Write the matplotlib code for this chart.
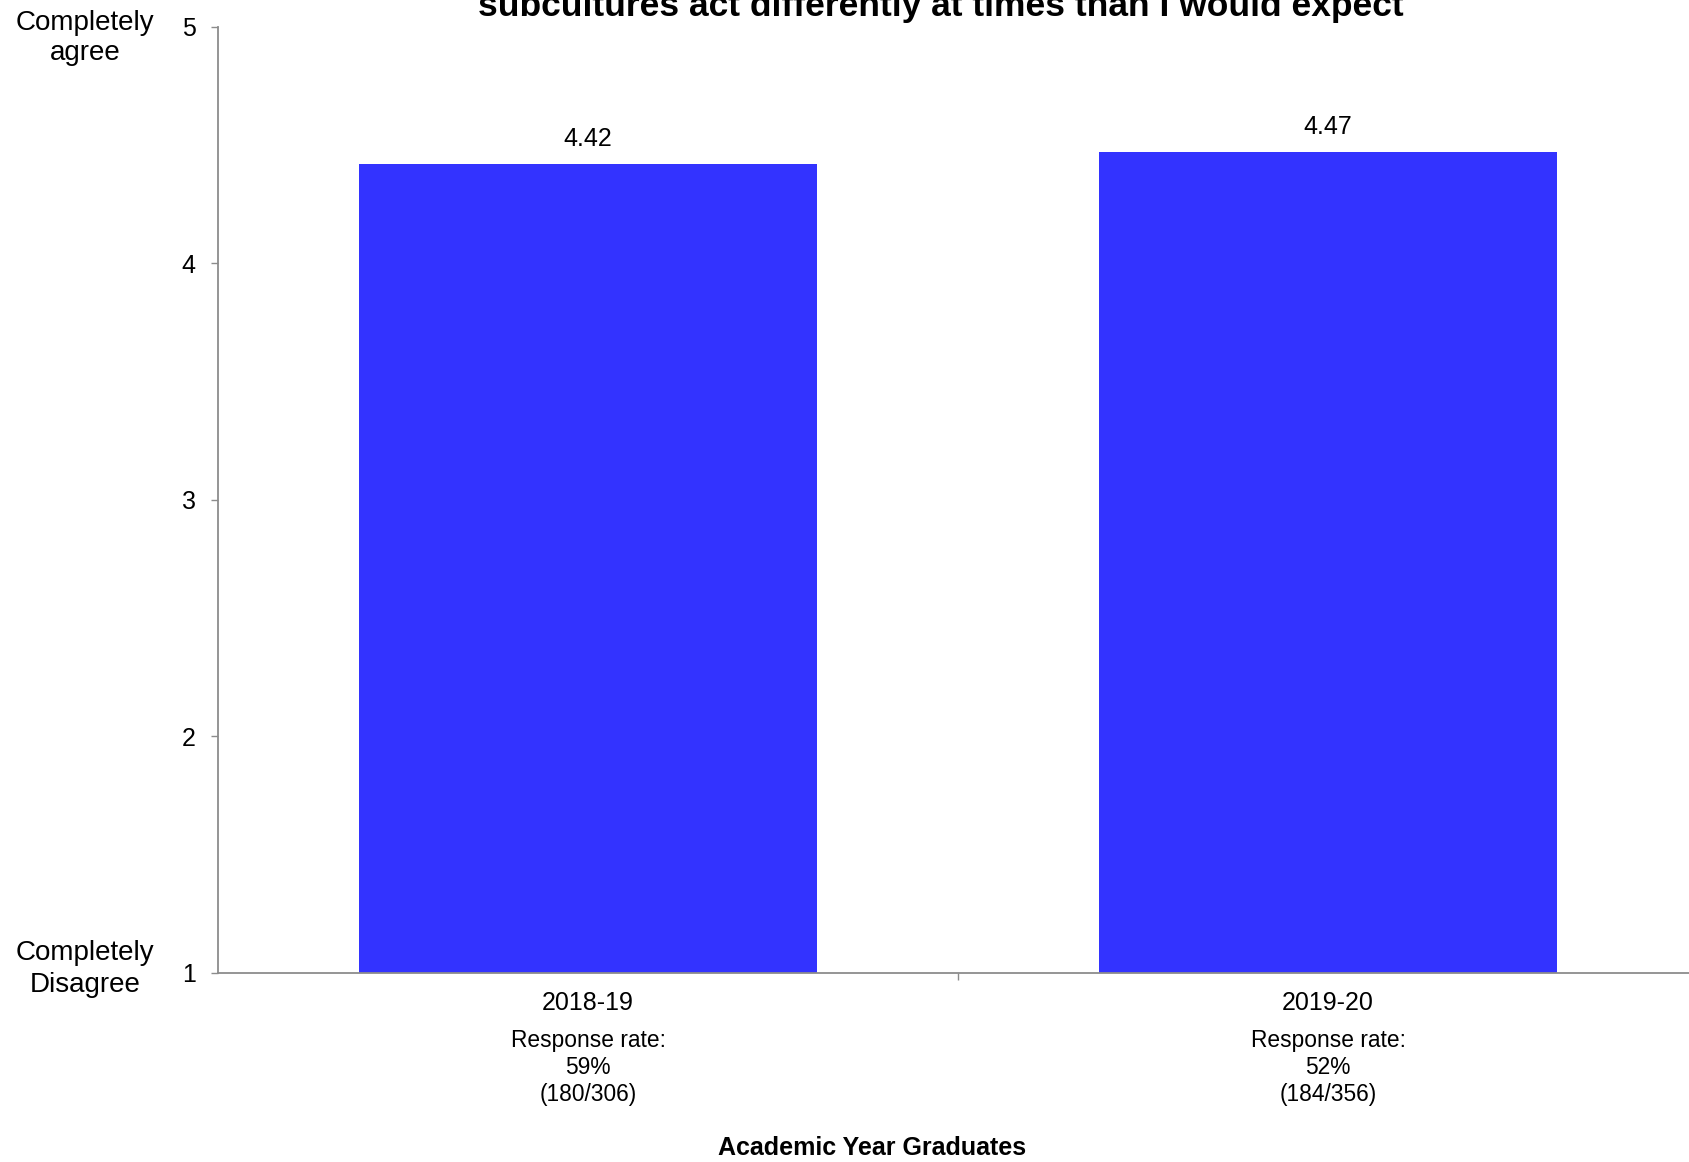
import matplotlib
matplotlib.use("Agg")
import matplotlib.pyplot as plt

# ── Data ───────────────────────────────────────────────────────────────────────
years      = ["2018-19", "2019-20"]
means      = [4.42, 4.47]
resp_pct   = ["59%", "52%"]
resp_count = ["(180/306)", "(184/356)"]
y_ticks    = [1, 2, 3, 4, 5]

TITLE   = "subcultures act differently at times than I would expect"
XLABEL  = "Academic Year Graduates"
BAR_CLR = "#3333FF"
AX_CLR  = "#8C8C8C"

plt.rcParams["font.family"] = ["Liberation Sans", "DejaVu Sans"]

fig = plt.figure(figsize=(16.9, 11.62), dpi=100)
ax = fig.add_axes([0.129, 0.1627, 0.8757, 0.8141])

x = [i + 0.5 for i in range(len(years))]
ax.bar(x, [m - 1 for m in means], bottom=1, width=0.62, color=BAR_CLR)

for xi, m in zip(x, means):
    ax.annotate(f"{m:.2f}", (xi, m), xytext=(0, 18), textcoords="offset points",
                ha="center", va="center", fontsize=18)

ax.set_xlim(0, len(years))
ax.set_ylim(1, 5)
ax.set_yticks(y_ticks)
ax.set_yticklabels([str(t) for t in y_ticks], fontsize=18)
ax.tick_params(axis="y", length=5, width=1, color=AX_CLR, pad=11)

# boundary tick between categories, labels at category centres
ax.set_xticks([1])
ax.set_xticklabels([""])
ax.tick_params(axis="x", which="major", length=5, width=1, color=AX_CLR, direction="out")
ax.set_xticks(x, minor=True)
ax.set_xticklabels(years, minor=True, fontsize=18)
ax.tick_params(axis="x", which="minor", length=0, pad=13)

for s in ["top", "right"]:
    ax.spines[s].set_visible(False)
for s in ["left", "bottom"]:
    ax.spines[s].set_color(AX_CLR)
    ax.spines[s].set_linewidth(1.3)

# response rates under each year
for xi, p, c in zip(x, resp_pct, resp_count):
    ax.text(xi, -0.1, f"Response rate:\n{p}\n{c}", transform=ax.get_xaxis_transform(),
            ha="center", va="center", fontsize=16.4, linespacing=1.22)

fig.text(85 / 1690, 1 - 38 / 1162, "Completely\nagree", ha="center", va="center",
         fontsize=20, linespacing=1.25)
fig.text(85 / 1690, 1 - 969 / 1162, "Completely\nDisagree", ha="center", va="center",
         fontsize=20, linespacing=1.25)

fig.text(941 / 1690, 0.986, TITLE, ha="center", va="baseline",
         fontsize=25.5, fontweight="bold")
fig.text(872 / 1690, 1 - 1148 / 1162, XLABEL, ha="center", va="center",
         fontsize=18, fontweight="bold")

fig.savefig("out.png", dpi=100)
plt.close(fig)
